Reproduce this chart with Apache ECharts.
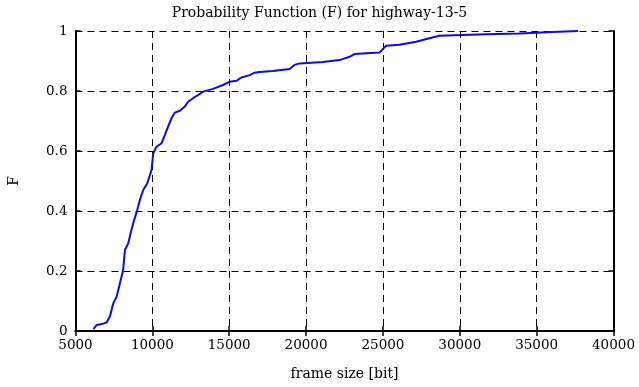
<!DOCTYPE html>
<html><head><meta charset="utf-8">
<script src="https://cdn.jsdelivr.net/npm/echarts@6/dist/echarts.min.js"></script>
<style>html,body{margin:0;padding:0;background:#fff}#c{width:639px;height:387px}</style>
</head><body><div id="c"></div>
<script>
var frameSize = [6160,6375,6700,7025,7240,7455,7675,7890,8100,8215,8430,8585,8755,9015,9190,9405,9665,9840,9950,10055,10270,10600,10810,11025,11245,11460,11785,12110,12325,12650,13085,13300,13950,14600,15035,15470,15790,16330,16655,16980,17845,18930,19255,19580,21090,22180,22825,23150,24775,25035,25210,26070,27160,28020,28670,31700,33865,36030,37700];
var probF = [0.006,0.02,0.023,0.028,0.048,0.092,0.114,0.159,0.203,0.27,0.292,0.326,0.359,0.403,0.437,0.47,0.492,0.52,0.537,0.592,0.614,0.626,0.653,0.681,0.709,0.728,0.734,0.748,0.764,0.776,0.79,0.798,0.807,0.82,0.831,0.834,0.845,0.853,0.861,0.863,0.867,0.873,0.887,0.892,0.897,0.903,0.914,0.923,0.928,0.942,0.951,0.954,0.964,0.976,0.984,0.989,0.992,0.997,1.0];
var xTicks = [5000,10000,15000,20000,25000,30000,35000,40000];
var yTicks = [0,0.2,0.4,0.6,0.8,1];
var data = frameSize.map(function(v,i){return [v, probF[i]];});
var font = '"DejaVu Serif",serif';
var chart = echarts.init(document.getElementById('c'));
var axisLine = {show:true, lineStyle:{color:'#000', width:2}};
var tick = {show:true, inside:true, length:5, lineStyle:{color:'#000', width:1.5}};
chart.setOption({
  animation:false,
  title:{text:'Probability Function (F) for highway-13-5', left:'center', top:1,
    textStyle:{fontFamily:font, fontSize:14, fontWeight:'normal', color:'#000'}},
  grid:{left:75.5, right:25.5, top:31, bottom:56, containLabel:false, outerBoundsMode:'none'},
  xAxis:[{type:'value', min:5000, max:40000, interval:5000, position:'bottom',
    name:'frame size [bit]', nameLocation:'middle', nameGap:36,
    nameTextStyle:{fontFamily:font, fontSize:14, color:'#000'},
    axisLine:axisLine, axisTick:tick,
    axisLabel:{fontFamily:font, fontSize:13.5, color:'#000', margin:7,
      formatter:function(v){return xTicks.indexOf(v)>=0 ? String(v) : '';}},
    splitLine:{show:true, lineStyle:{color:'#000', width:1, type:[7,5]}}},
   {type:'value', min:5000, max:40000, interval:5000, position:'top',
    axisLine:axisLine, axisTick:tick, axisLabel:{show:false}, splitLine:{show:false}}],
  yAxis:[{type:'value', min:0, max:1, interval:0.2, position:'left',
    name:'F', nameLocation:'middle', nameGap:54, nameRotate:90,
    nameTextStyle:{fontFamily:font, fontSize:14, color:'#000'},
    axisLine:axisLine, axisTick:tick,
    axisLabel:{fontFamily:font, fontSize:13.5, color:'#000', margin:8,
      formatter:function(v){var r=Math.round(v*10)/10; return yTicks.indexOf(r)>=0 ? String(r) : '';}},
    splitLine:{show:true, lineStyle:{color:'#000', width:1, type:[7,5]}}},
   {type:'value', min:0, max:1, interval:0.2, position:'right',
    axisLine:axisLine, axisTick:tick, axisLabel:{show:false}, splitLine:{show:false}}],
  series:[{type:'line', data:data, showSymbol:false, symbol:'none',
    lineStyle:{color:'#0a0af0', width:2}, xAxisIndex:0, yAxisIndex:0}]
});
</script></body></html>
